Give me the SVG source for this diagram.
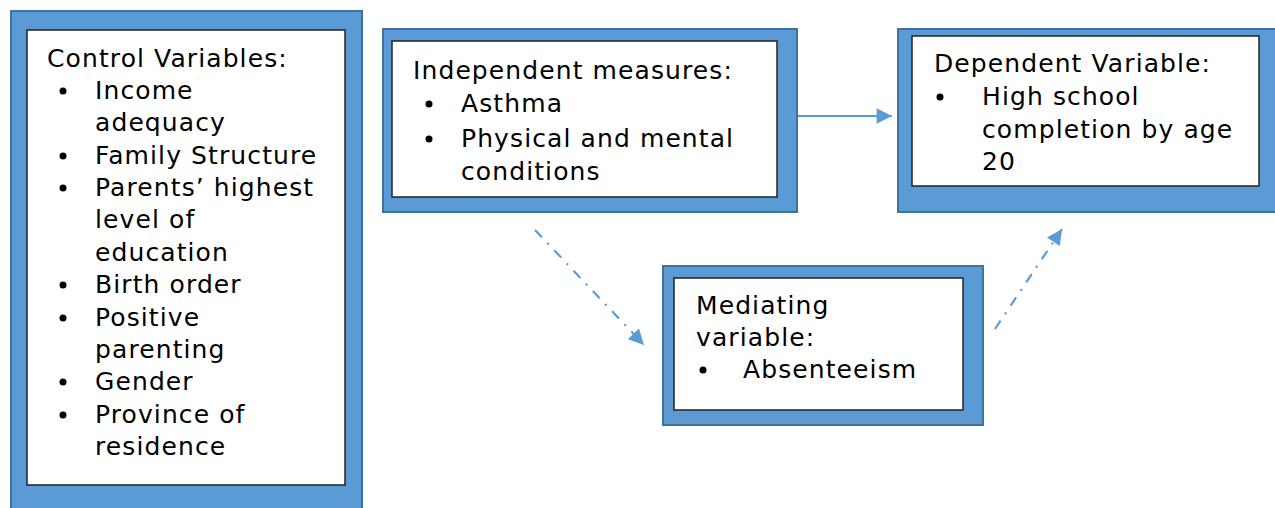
<svg xmlns="http://www.w3.org/2000/svg" width="1275" height="508" viewBox="0 0 1275 508">
<style>
.outer{fill:#5B9BD5;stroke:#41719C;stroke-width:2}
.inner{fill:#FFFFFF;stroke:#222;stroke-width:1.5}
text{font-family:"DejaVu Sans",Verdana,sans-serif;font-size:25px;letter-spacing:1.1px;fill:#000}
.dot{fill:#000}
.conn{stroke:#5B9BD5;stroke-width:2.2;fill:none}
.dd{stroke-dasharray:10 8 2 8}
</style>
<defs>
<marker id="ah" viewBox="0 0 10 10" refX="10" refY="5" markerWidth="7.5" markerHeight="7" markerUnits="strokeWidth" orient="auto">
<path d="M0,0 L10,5 L0,10 Z" fill="#5B9BD5"/>
</marker>
</defs>
<rect x="0" y="0" width="1275" height="508" fill="#fff"/>
<g id="control">
<rect class="outer" x="11" y="11" width="351" height="500"/>
<rect class="inner" x="27" y="30" width="318" height="455"/>
<text x="47" y="67">Control Variables:</text>
<circle class="dot" cx="63" cy="91" r="3.5"/><text x="95" y="99">Income</text>
<text x="95" y="131">adequacy</text>
<circle class="dot" cx="63" cy="156" r="3.5"/><text x="95" y="164">Family Structure</text>
<circle class="dot" cx="63" cy="188" r="3.5"/><text x="95" y="196">Parents’ highest</text>
<text x="95" y="228">level of</text>
<text x="95" y="261">education</text>
<circle class="dot" cx="63" cy="285" r="3.5"/><text x="95" y="293">Birth order</text>
<circle class="dot" cx="63" cy="318" r="3.5"/><text x="95" y="326">Positive</text>
<text x="95" y="358">parenting</text>
<circle class="dot" cx="63" cy="382" r="3.5"/><text x="95" y="390">Gender</text>
<circle class="dot" cx="63" cy="415" r="3.5"/><text x="95" y="423">Province of</text>
<text x="95" y="455">residence</text>
</g>
<g id="independent">
<rect class="outer" x="383" y="29" width="414" height="183"/>
<rect class="inner" x="392" y="41" width="385" height="156"/>
<text x="413" y="79">Independent measures:</text>
<circle class="dot" cx="429" cy="104" r="3.5"/><text x="461" y="112">Asthma</text>
<circle class="dot" cx="429" cy="139" r="3.5"/><text x="461" y="147">Physical and mental</text>
<text x="461" y="180">conditions</text>
</g>
<g id="dependent">
<rect class="outer" x="898" y="29" width="378" height="183"/>
<rect class="inner" x="912" y="36" width="347" height="150"/>
<text x="934" y="72">Dependent Variable:</text>
<circle class="dot" cx="940" cy="97" r="3.5"/><text x="982" y="105">High school</text>
<text x="982" y="138">completion by age</text>
<text x="982" y="170">20</text>
</g>
<g id="mediating">
<rect class="outer" x="663" y="266" width="320" height="159"/>
<rect class="inner" x="674" y="278" width="289" height="132"/>
<text x="696" y="314">Mediating</text>
<text x="696" y="346">variable:</text>
<circle class="dot" cx="703" cy="370" r="3.5"/><text x="743" y="378">Absenteeism</text>
</g>
<g id="connectors">
<line class="conn" x1="798" y1="116" x2="892" y2="116" marker-end="url(#ah)"/>
<line class="conn dd" x1="535" y1="230" x2="644" y2="345" marker-end="url(#ah)"/>
<line class="conn dd" x1="995" y1="329" x2="1062" y2="229" marker-end="url(#ah)"/>
</g>
</svg>
